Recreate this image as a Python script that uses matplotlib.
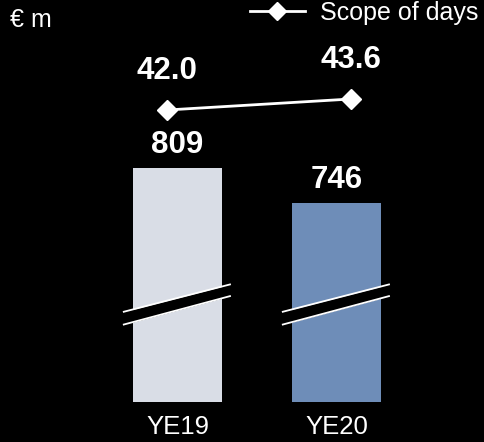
import matplotlib
matplotlib.use("Agg")
import matplotlib.pyplot as plt
import numpy as np

plt.rcParams['font.family'] = ['Liberation Sans', 'DejaVu Sans']

# data
years = ["YE19", "YE20"]
values = [809, 746]          # EUR m
days = [42.0, 43.6]          # scope of days
bar_colors = ["#D9DDE6", "#6E8DB8"]

W, H = 484, 442
fig = plt.figure(figsize=(W / 100, H / 100), dpi=100, facecolor="black")

# axis starts at the break baseline (bars are truncated)
base = 388
ax = fig.add_axes([0, 40 / H, 1, 1 - 40 / H])
ax.set_facecolor("black")
x = np.arange(len(years))
ax.bar(x, [v - base for v in values], bottom=base, width=0.56, color=bar_colors)
ax.set_xlim(-1.116, 1.928)
ax.set_ylim(base, base + 402 / 0.5556)
ax.set_xticks(x)
ax.set_xticklabels(years, color="white", fontsize=18.5)
ax.tick_params(axis="x", length=0, pad=9)
ax.set_yticks([])
for s in ax.spines.values():
    s.set_visible(False)

for xi, v in zip(x, values):
    ax.annotate(str(v), (xi, v), xytext=(0, 11), textcoords="offset points",
                ha="center", va="baseline", color="white", fontsize=22.5, fontweight="bold")

# axis break marks
for xi in x:
    bx = [xi - 0.343, xi + 0.336]
    upper = [550, 600]
    lower = [527, 579]
    ax.fill_between(bx, lower, upper, color="black", zorder=3, lw=0)
    ax.plot(bx, upper, color="white", lw=1.3, zorder=4, solid_capstyle="butt")
    ax.plot(bx, lower, color="white", lw=1.3, zorder=4, solid_capstyle="butt")

# scope of days line
ax2 = ax.twinx()
ax2.set_ylim(-0.47, 58.0)
ax2.set_yticks([])
for s in ax2.spines.values():
    s.set_visible(False)
line_x = [x[0] - 0.066, x[1] + 0.091]
ax2.plot(line_x, days, color="white", lw=2, marker="D", markersize=10,
         label="Scope of days")
for lx, d in zip(line_x, days):
    ax2.annotate(f"{d:.1f}", (lx, d), xytext=(0, 22), textcoords="offset points",
                 ha="center", va="baseline", color="white", fontsize=22.5, fontweight="bold")

leg = ax2.legend(loc="upper right", bbox_to_anchor=(478 / W, 1 - 1 / 402),
                 frameon=False, fontsize=18, handlelength=2.2, handletextpad=0.6,
                 borderpad=0, borderaxespad=0, markerscale=0.9)
for t in leg.get_texts():
    t.set_color("white")

fig.text(10 / W, 1 - 27 / H, "€ m", color="white", fontsize=18, va="baseline")

fig.savefig("out.png", dpi=100, facecolor="black")
